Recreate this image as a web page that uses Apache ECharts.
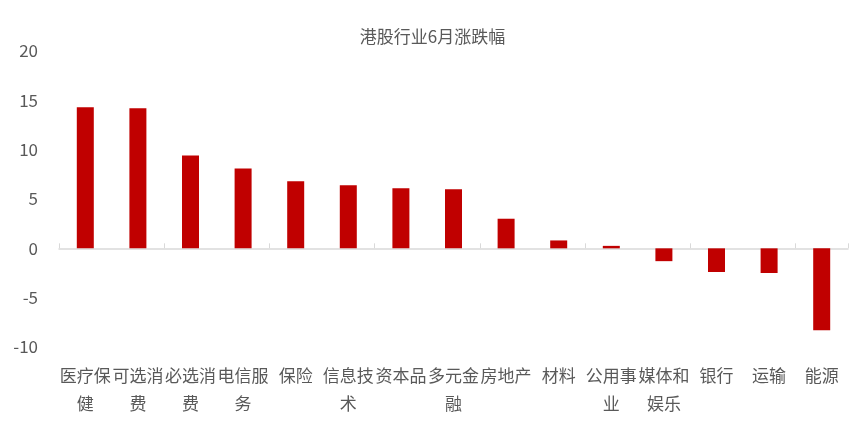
<!DOCTYPE html>
<html>
<head>
<meta charset="utf-8">
<script src="https://cdn.jsdelivr.net/npm/echarts@6/dist/echarts.min.js"></script>
<style>
  html, body { margin: 0; padding: 0; background: #fff; }
  #chart { width: 865px; height: 447px; }
</style>
</head>
<body>
<div id="chart"></div>
<script>
// 港股行业6月涨跌幅
const sectors = ['医疗保健', '可选消费', '必选消费', '电信服务', '保险', '信息技术', '资本品', '多元金融',
  '房地产', '材料', '公用事业', '媒体和娱乐', '银行', '运输', '能源'];
const changes = [14.3, 14.2, 9.4, 8.1, 6.8, 6.4, 6.1, 6.0, 3.0, 0.8, 0.25, -1.3, -2.4, -2.5, -8.3];
const yTicks = [-10, -5, 0, 5, 10, 15, 20];

const font = '"Noto Sans CJK SC", "Microsoft YaHei", sans-serif';

// wrap every 3 chars, like the original
function wrap(s) {
  let out = [];
  for (let i = 0; i < s.length; i += 3) out.push(s.slice(i, i + 3));
  return out.join('\n');
}

const chart = echarts.init(document.getElementById('chart'));
chart.setOption({
  animation: false,
  title: {
    text: '港股行业6月涨跌幅',
    left: 'center',
    top: 23,
    textStyle: { fontFamily: font, fontSize: 17, fontWeight: 'normal', color: '#595959' }
  },
  grid: { left: 59, right: 17, top: 51, bottom: 100 },
  xAxis: [
    {
      type: 'category',
      data: sectors,
      axisLine: { onZero: true, lineStyle: { color: '#d9d9d9', width: 1.5 } },
      axisTick: { show: true, inside: true, length: 5, lineStyle: { color: '#d9d9d9' } },
      axisLabel: { show: false }
    },
    {
      type: 'category',
      data: sectors,
      position: 'bottom',
      axisLine: { show: false, onZero: false },
      axisTick: { show: false },
      axisLabel: {
        interval: 0,
        margin: 15,
        lineHeight: 28,
        fontFamily: font,
        fontSize: 17,
        color: '#595959',
        formatter: wrap
      }
    }
  ],
  yAxis: {
    type: 'value',
    min: yTicks[0],
    max: yTicks[yTicks.length - 1],
    interval: 5,
    splitLine: { show: false },
    axisLine: { show: false },
    axisTick: { show: false },
    axisLabel: { margin: 21, fontFamily: font, fontSize: 17, color: '#595959' }
  },
  series: [{
    type: 'bar',
    xAxisIndex: 0,
    data: changes,
    barWidth: 17,
    itemStyle: { color: '#C00000' }
  }]
});
</script>
</body>
</html>
